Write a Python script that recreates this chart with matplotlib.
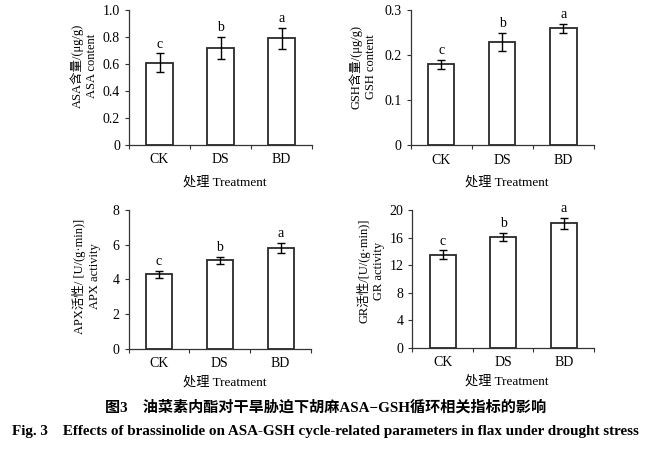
import matplotlib
matplotlib.use("Agg")
import matplotlib.pyplot as plt
import numpy as np

plt.rcParams['font.family'] = ['Liberation Serif', 'Noto Sans CJK SC']
plt.rcParams['mathtext.fontset'] = 'stix'

categories = ['CK', 'DS', 'BD']

asa_vals = [0.61, 0.72, 0.79]
asa_err = [0.07, 0.08, 0.08]
asa_letters = ['c', 'b', 'a']

gsh_vals = [0.18, 0.23, 0.26]
gsh_err = [0.01, 0.02, 0.01]
gsh_letters = ['c', 'b', 'a']

apx_vals = [4.3, 5.1, 5.8]
apx_err = [0.2, 0.2, 0.3]
apx_letters = ['c', 'b', 'a']

gr_vals = [13.5, 16.1, 18.1]
gr_err = [0.65, 0.6, 0.8]
gr_letters = ['c', 'b', 'a']

panels = [
    dict(vals=asa_vals, err=asa_err, letters=asa_letters, ylim=1.0,
         yticks=[0, 0.2, 0.4, 0.6, 0.8, 1.0], yticklabels=['0', '0.2', '0.4', '0.6', '0.8', '1.0'],
         ylabel='ASA含量/(μg/g)\nASA content',
         rect=[129/651, 1-145/450, 183/651, 135/450],
         ylab_pos=(-0.246, 0.585), xlab_pos=(0.525, -0.274)),
    dict(vals=gsh_vals, err=gsh_err, letters=gsh_letters, ylim=0.3,
         yticks=[0, 0.1, 0.2, 0.3], yticklabels=['0', '0.1', '0.2', '0.3'],
         ylabel='GSH含量/(μg/g)\nGSH content',
         rect=[410.5/651, 1-145.5/450, 183.5/651, 135.5/450],
         ylab_pos=(-0.26, 0.58), xlab_pos=(0.526, -0.27)),
    dict(vals=apx_vals, err=apx_err, letters=apx_letters, ylim=8,
         yticks=[0, 2, 4, 6, 8], yticklabels=['0', '2', '4', '6', '8'],
         ylabel='APX活性/ [U/(g·min)]\nAPX activity',
         rect=[128.5/651, 1-348.5/450, 182.5/651, 138.5/450],
         ylab_pos=(-0.23, 0.52), xlab_pos=(0.53, -0.242)),
    dict(vals=gr_vals, err=gr_err, letters=gr_letters, ylim=20,
         yticks=[0, 4, 8, 12, 16, 20], yticklabels=['0', '4', '8', '12', '16', '20'],
         ylabel='GR活性/[U/(g·min)]\nGR activity',
         rect=[412.3/651, 1-348/450, 181.7/651, 138/450],
         ylab_pos=(-0.23, 0.56), xlab_pos=(0.52, -0.24)),
]

fig = plt.figure(figsize=(6.51, 4.5), dpi=100)
fs = 10
lfs = 9
for p in panels:
    ax = fig.add_axes(p['rect'])
    x = np.arange(len(categories)) + 0.5
    ax.bar(x, p['vals'], width=0.43, color='white', edgecolor='#2a2a2a', linewidth=1.3, zorder=2)
    ax.errorbar(x, p['vals'], yerr=p['err'], fmt='none', ecolor='black', elinewidth=1.0,
                capsize=3, capthick=1.0, zorder=3)
    for xi, v, e, l in zip(x, p['vals'], p['err'], p['letters']):
        ax.text(xi, v + e + p['ylim'] * 0.02, l, ha='center', va='bottom', fontsize=fs)
    ax.set_xlim(0, 3)
    ax.set_ylim(0, p['ylim'])
    ax.set_yticks(p['yticks'])
    ax.set_yticklabels(p['yticklabels'], fontsize=fs)
    ax.set_xticks([0, 1, 2, 3])
    ax.set_xticklabels([])
    ax.set_xticks(x, minor=True)
    ax.set_xticklabels(categories, minor=True, fontsize=fs)
    ax.tick_params(axis='x', which='minor', length=0, pad=6)
    ax.tick_params(axis='x', which='major', direction='out', length=3, width=0.8, color='#333333')
    ax.tick_params(axis='y', direction='out', length=3, width=0.8, color='#333333', pad=3.5)
    for s in ['top', 'right']:
        ax.spines[s].set_visible(False)
    for s in ['left', 'bottom']:
        ax.spines[s].set_linewidth(0.9)
        ax.spines[s].set_color('#333333')
    ax.text(p['ylab_pos'][0], p['ylab_pos'][1], p['ylabel'], transform=ax.transAxes,
            rotation=90, ha='center', va='center', fontsize=lfs, linespacing=1.25,
            multialignment='center')
    ax.text(p['xlab_pos'][0], p['xlab_pos'][1], '处理 Treatment', transform=ax.transAxes,
            ha='center', va='center', fontsize=9.5)

fig.text(0.5, 1 - 407/450, '图3　油菜素内酯对干旱胁迫下胡麻ASA−GSH循环相关指标的影响',
         ha='center', va='center', fontsize=10.9, fontweight='bold')
fig.text(0.5, 1 - 432/450, 'Fig. 3    Effects of brassinolide on ASA-GSH cycle-related parameters in flax under drought stress',
         ha='center', va='center', fontsize=10.9, fontweight='bold')

fig.savefig('out.png', dpi=100)
